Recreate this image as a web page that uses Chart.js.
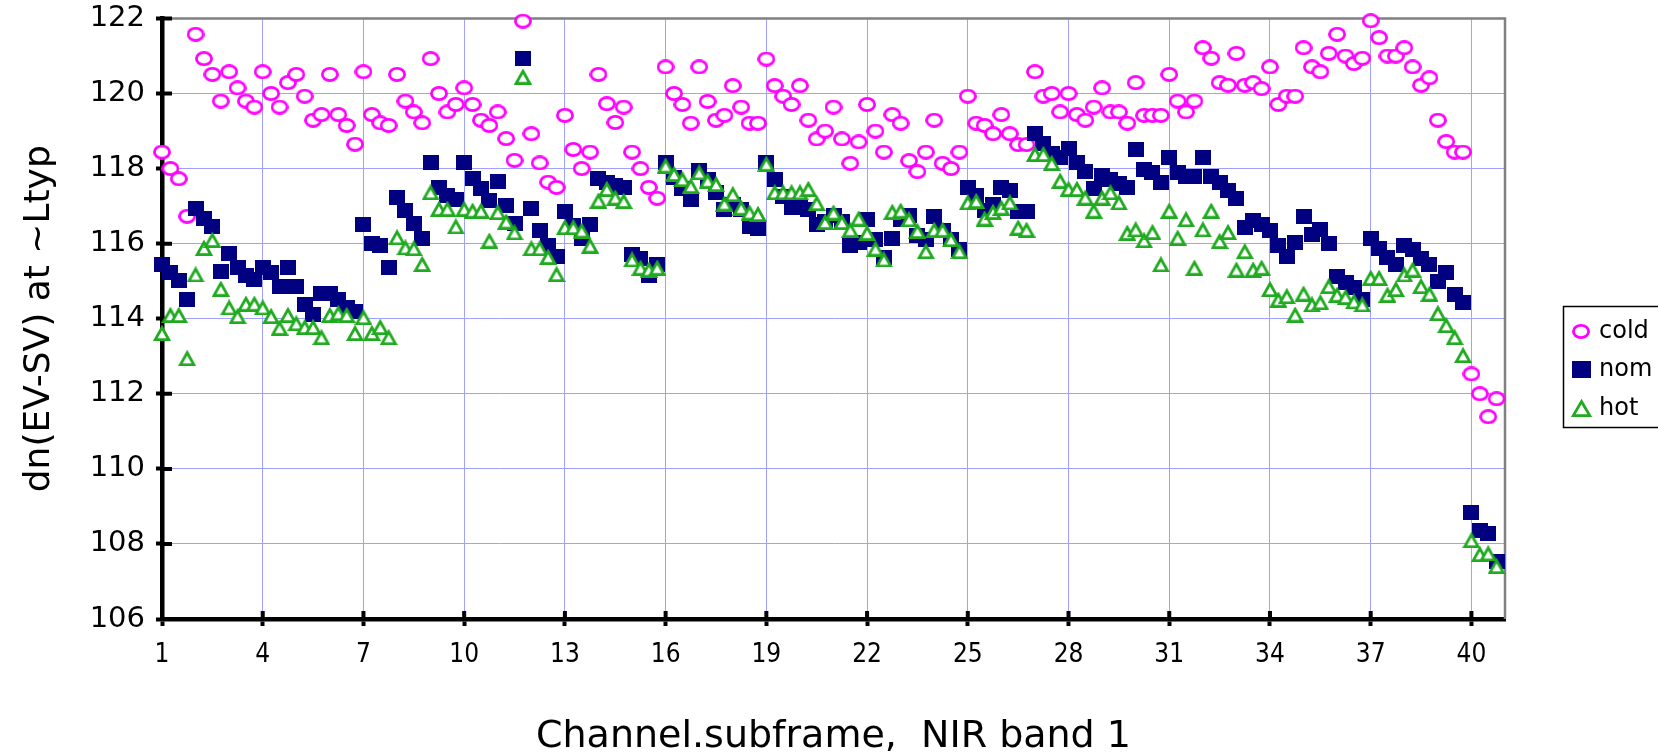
<!DOCTYPE html>
<html><head><meta charset="utf-8">
<script src="https://cdn.jsdelivr.net/npm/chart.js@4.4.1/dist/chart.umd.min.js"></script>
<style>html,body{margin:0;padding:0;background:#fff;} #wrap{width:1658px;height:756px;position:relative;}</style>
</head><body><div id="wrap"><canvas id="c" width="1658" height="756"></canvas></div>
<script>
// ---- categories (channel.subframe) ----
const channels = [1,2,3,4,5,6,7,8,9,10,11,12,13,14,15,16,17,18,19,20,21,22,23,24,25,26,27,28,29,30,31,32,33,34,35,36,37,38,39,40];
const subframeOffsets = [0, 0.25, 0.5, 0.75];
const xTickLabels = [1,4,7,10,13,16,19,22,25,28,31,34,37,40];
const yTickLabels = [106,108,110,112,114,116,118,120,122];
const seriesNames = ['cold','nom','hot'];

// ---- series values (4 subframes per channel) ----
const cold = [
118.44,118.0,117.73,116.73, 121.58,120.93,120.51,119.8, 120.58,120.15,119.8,119.64, 120.58,120.0,119.64,120.29,
120.51,119.93,119.29,119.44, 120.51,119.44,119.15,118.65, 120.58,119.44,119.22,119.15, 120.51,119.8,119.51,119.22,
120.93,120.0,119.51,119.71, 120.15,119.71,119.29,119.15, 119.51,118.8,118.22,121.93, 118.93,118.15,117.64,117.5,
119.42,118.51,118.0,118.44, 120.51,119.73,119.23,119.64, 118.44,118.0,117.5,117.21, 120.71,120.0,119.71,119.21,
120.71,119.79,119.29,119.42, 120.21,119.64,119.21,119.21, 120.92,120.21,119.93,119.71, 120.21,119.29,118.79,119.0,
119.64,118.79,118.14,118.71, 119.71,119.0,118.44,119.44, 119.21,118.21,117.92,118.44, 119.29,118.14,118.0,118.44,
119.93,119.21,119.15,118.93, 119.44,118.93,118.64,118.64, 120.58,119.93,120.0,119.51, 120.0,119.44,119.29,119.64,
120.15,119.51,119.51,119.21, 120.29,119.42,119.42,119.42, 120.51,119.8,119.51,119.8, 121.22,120.94,120.29,120.22,
121.07,120.22,120.29,120.13, 120.71,119.71,119.93,119.93, 121.22,120.71,120.58,121.07, 121.58,121.0,120.8,120.94,
121.94,121.49,121.0,121.0, 121.22,120.71,120.22,120.42, 119.29,118.72,118.44,118.44, 112.53,112.0,111.39,111.87
];
const nom = [
115.44,115.22,115.02,114.52, 116.95,116.66,116.45,115.25, 115.74,115.37,115.15,115.05, 115.37,115.23,114.87,115.37,
114.87,114.37,114.1,114.68, 114.67,114.5,114.3,114.18, 116.51,116.0,115.95,115.37, 117.24,116.88,116.53,116.14,
118.16,117.5,117.28,117.18, 118.16,117.73,117.46,117.15, 117.66,117.02,116.53,120.93, 116.93,116.35,115.95,115.65,
116.86,116.48,116.13,116.51, 117.73,117.64,117.55,117.5, 115.7,115.6,115.15,115.45, 118.15,117.77,117.46,117.19,
117.95,117.72,117.37,116.92, 117.05,116.92,116.47,116.4, 118.15,117.72,117.25,116.96, 116.96,116.92,116.52,116.6,
116.74,116.6,115.94,116.03, 116.65,116.12,115.63,116.13, 116.65,116.74,116.21,116.12, 116.72,116.34,116.12,115.85,
117.5,117.28,116.88,117.05, 117.5,117.41,116.85,116.85, 118.93,118.66,118.39,118.3, 118.53,118.17,117.92,117.46,
117.81,117.72,117.6,117.5, 118.5,117.99,117.9,117.63, 118.29,117.9,117.79,117.79, 118.29,117.79,117.63,117.43,
117.21,116.43,116.63,116.5, 116.34,115.94,115.67,116.03, 116.72,116.25,116.37,116.01, 115.13,114.96,114.82,114.51,
116.13,115.87,115.63,115.45, 115.94,115.85,115.6,115.45, 115.0,115.22,114.64,114.44, 108.84,108.37,108.28,107.52
];
const hot = [
113.62,114.1,114.1,112.95, 115.18,115.89,116.1,114.8, 114.3,114.07,114.4,114.4, 114.3,114.07,113.76,114.1,
113.88,113.78,113.78,113.51, 114.1,114.15,114.1,113.62, 114.04,113.62,113.78,113.51, 116.17,115.9,115.88,115.46,
117.37,116.93,116.93,116.46, 116.93,116.88,116.88,116.08, 116.84,116.59,116.3,120.45, 115.88,115.88,115.65,115.19,
116.44,116.44,116.35,115.95, 117.15,117.46,117.23,117.14, 115.58,115.36,115.31,115.36, 118.08,117.86,117.72,117.54,
117.9,117.68,117.59,117.07, 117.32,116.96,116.83,116.79, 118.13,117.37,117.37,117.37, 117.37,117.46,117.08,116.58,
116.83,116.58,116.37,116.67, 116.29,115.87,115.58,116.85, 116.88,116.65,116.34,115.8, 116.37,116.37,116.12,115.8,
117.1,117.14,116.67,116.85, 116.96,117.1,116.43,116.37, 118.39,118.39,118.15,117.68, 117.46,117.46,117.23,116.88,
117.23,117.37,117.1,116.29, 116.38,116.09,116.31,115.45, 116.88,116.16,116.65,115.36, 116.38,116.88,116.07,116.31,
115.31,115.8,115.31,115.36, 114.79,114.51,114.6,114.11, 114.67,114.38,114.44,114.87, 114.64,114.58,114.46,114.38,
115.09,115.09,114.64,114.79, 115.18,115.31,114.87,114.67, 114.15,113.83,113.51,113.03, 108.1,107.73,107.75,107.41
];

const xValues = channels.flatMap(c => subframeOffsets.map(o => c + o));
const toPoints = arr => arr.map((v, i) => ({x: xValues[i], y: v}));

// ---- pick an installed narrow font for the x tick labels ----
function hasFont(name) {
  const g = document.createElement('canvas').getContext('2d');
  const s = '0123456789 abcdefghij';
  g.font = '100px monospace'; const m = g.measureText(s).width;
  g.font = '100px serif'; const se = g.measureText(s).width;
  g.font = `100px "${name}", monospace`; const a = g.measureText(s).width;
  g.font = `100px "${name}", serif`; const b = g.measureText(s).width;
  return !(a === m && b === se);
}
let tickFontX;
if (hasFont('Liberation Sans Narrow')) tickFontX = {family: '"Liberation Sans Narrow"', size: 28};
else if (hasFont('DejaVu Sans Condensed')) tickFontX = {family: '"DejaVu Sans Condensed"', size: 26};
else tickFontX = {family: '"Liberation Sans", Arial, sans-serif', size: 26};

// ---- marker images ----
function ellipseMarker(w, h, color, lw) {
  const c = document.createElement('canvas'); c.width = w; c.height = h;
  const g = c.getContext('2d');
  g.beginPath(); g.ellipse(w/2, h/2, (w-lw)/2, (h-lw)/2, 0, 0, Math.PI*2);
  g.fillStyle = '#fff'; g.fill(); g.lineWidth = lw; g.strokeStyle = color; g.stroke();
  return c;
}
function rectMarker(w, h, color) {
  const c = document.createElement('canvas'); c.width = w; c.height = h;
  const g = c.getContext('2d'); g.fillStyle = color; g.fillRect(0, 0, w, h);
  return c;
}
function triMarker(w, h, color, lw) {
  const c = document.createElement('canvas'); c.width = w; c.height = h;
  const g = c.getContext('2d');
  g.beginPath(); g.moveTo(w/2, lw*0.9); g.lineTo(w - lw*0.8, h - lw/2); g.lineTo(lw*0.8, h - lw/2); g.closePath();
  g.fillStyle = '#fff'; g.fill(); g.lineWidth = lw; g.lineJoin = 'miter'; g.strokeStyle = color; g.stroke();
  return c;
}
const COLD = '#ff00ff', NOM = '#000080', HOT = '#1faa1f';
const coldImg = ellipseMarker(18, 15, COLD, 2.8);
const nomImg = rectMarker(16, 15, NOM);
const hotImg = triMarker(18, 16, HOT, 2.8);
const coldLeg = ellipseMarker(18, 15, COLD, 2.8);
const nomLeg = rectMarker(19, 17, NOM);
const hotLeg = triMarker(21, 18, HOT, 2.8);

const decor = {
  id: 'decor',
  beforeDatasetsDraw(chart) {
    const {ctx, chartArea: a} = chart;
    ctx.save();
    ctx.strokeStyle = '#808080'; ctx.lineWidth = 2.5;
    ctx.beginPath(); ctx.moveTo(a.left, a.top); ctx.lineTo(a.right, a.top); ctx.lineTo(a.right, a.bottom); ctx.stroke();
    ctx.strokeStyle = '#000'; ctx.lineWidth = 4;
    ctx.beginPath();
    chart.scales.y.ticks.forEach(t => { const p = chart.scales.y.getPixelForValue(t.value); ctx.moveTo(a.left, p); ctx.lineTo(a.left + 10, p); });
    chart.scales.x.ticks.forEach(t => { const p = chart.scales.x.getPixelForValue(t.value); ctx.moveTo(p, a.bottom); ctx.lineTo(p, a.bottom - 8); });
    ctx.stroke();
    ctx.restore();
  },
  afterDraw(chart) {
    const ctx = chart.ctx;
    ctx.save();
    ctx.strokeStyle = '#000'; ctx.lineWidth = 1.5;
    ctx.strokeRect(1563.5, 306.5, 130, 121);
    const imgs = [coldLeg, nomLeg, hotLeg];
    const ys = [331, 369, 408];
    ctx.font = '24px "DejaVu Sans"'; ctx.fillStyle = '#000'; ctx.textBaseline = 'middle'; ctx.textAlign = 'left';
    chart.data.datasets.forEach((ds, i) => {
      const im = imgs[i];
      ctx.drawImage(im, Math.round(1581 - im.width/2), Math.round(ys[i] - im.height/2));
      ctx.fillText(ds.label, 1599, ys[i] + 1);
    });
    ctx.restore();
  }
};

const tickFontY = {family: '"DejaVu Sans", Verdana, sans-serif', size: 29};
const titleFontX = {family: '"DejaVu Sans", Verdana, sans-serif', size: 38, lineHeight: 1.0};
const titleFontY = {family: '"DejaVu Sans", Verdana, sans-serif', size: 36, lineHeight: 1.2};

new Chart(document.getElementById('c'), {
  type: 'scatter',
  data: {
    datasets: [
      {label: seriesNames[0], data: toPoints(cold), pointStyle: coldImg, pointRadius: 8, order: 3, clip: false},
      {label: seriesNames[1], data: toPoints(nom), pointStyle: nomImg, pointRadius: 8, order: 2, clip: false},
      {label: seriesNames[2], data: toPoints(hot), pointStyle: hotImg, pointRadius: 8, order: 1, clip: false}
    ]
  },
  options: {
    responsive: false, animation: false, events: [],
    layout: {padding: {top: 18.5, right: 153, left: 0, bottom: 0}},
    plugins: {legend: {display: false}, tooltip: {enabled: false}},
    scales: {
      x: {
        type: 'linear', min: 1, max: 41,
        afterBuildTicks: s => { s.ticks = xTickLabels.map(v => ({value: v})); },
        afterFit: s => { s.height = 137; s.paddingLeft = 0; s.paddingRight = 0; },
        grid: {color: '#a0a0ff', lineWidth: 1, tickLength: 7, tickColor: '#000', tickWidth: 4},
        border: {color: '#000', width: 4.5},
        ticks: {font: tickFontX, color: '#000', padding: 14, maxRotation: 0, autoSkip: false},
        title: {display: true, text: 'Channel.subframe,  NIR band 1', font: titleFontX, color: '#000', padding: {top: 0, bottom: 0}}
      },
      y: {
        min: yTickLabels[0], max: yTickLabels[yTickLabels.length - 1],
        afterBuildTicks: s => { s.ticks = yTickLabels.map(v => ({value: v})); },
        afterFit: s => { s.width = 162; s.paddingTop = 0; s.paddingBottom = 0; },
        grid: {color: '#a0a0ff', lineWidth: 1, tickLength: 6, tickColor: '#000', tickWidth: 4},
        border: {color: '#000', width: 4.5},
        ticks: {font: tickFontY, color: '#000', padding: 11},
        title: {display: true, text: 'dn(EV-SV) at ~Ltyp', font: titleFontY, color: '#000', padding: {top: 18, bottom: 0}}
      }
    }
  },
  plugins: [decor]
});
</script></body></html>
